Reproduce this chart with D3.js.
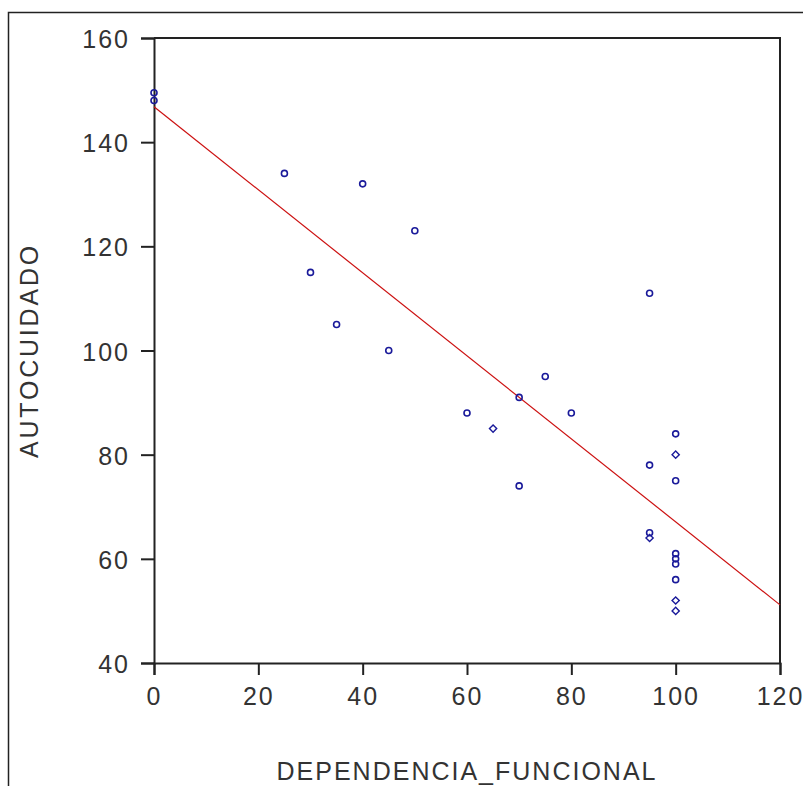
<!DOCTYPE html>
<html>
<head>
<meta charset="utf-8">
<script src="https://d3js.org/d3.v7.min.js"></script>
<style>
  body { margin: 0; background: #fff; }
  text { font-family: "Liberation Sans", Arial, sans-serif; fill: #333; }
</style>
</head>
<body>
<svg width="803" height="786"></svg>
<script>
// dependencia funcional (x) vs autocuidado (y)
var dependencia = [0, 0, 25, 30, 35, 40, 45, 50, 60, 65, 70, 70, 75, 80,
                   95, 95, 95, 95, 100, 100, 100, 100, 100, 100, 100, 100, 100];
var autocuidado = [148, 149.5, 134, 115, 105, 132, 100, 123, 88, 85, 91, 74, 95, 88,
                   111, 78, 65, 64, 84, 80, 75, 61, 60, 59, 56, 52, 50];
// cases sharing a marker (drawn as diamond when > 1)
var casos = [1, 1, 1, 1, 1, 1, 1, 1, 1, 2, 1, 1, 1, 1,
             1, 1, 1, 2, 1, 2, 1, 1, 1, 1, 1, 2, 2];
var xTicks = [0, 20, 40, 60, 80, 100, 120];
var yTicks = [40, 60, 80, 100, 120, 140, 160];
// fitted line
var intercepto = 146.8;
var pendiente = -0.797;

var svg = d3.select("svg");

svg.append("rect")
  .attr("x", 8.5).attr("y", 12.5)
  .attr("width", 820).attr("height", 820)
  .attr("fill", "none").attr("stroke", "#222").attr("stroke-width", 1.5);

var x = d3.scaleLinear().domain([0, 120]).range([154, 780]);
var y = d3.scaleLinear().domain([40, 160]).range([663, 38]);

// frame of plot (top and right)
svg.append("path")
  .attr("d", "M" + x(0) + "," + y(160) + "H" + x(120) + "V" + y(40))
  .attr("fill", "none").attr("stroke", "#222").attr("stroke-width", 2);

var xAxis = svg.append("g")
  .attr("transform", "translate(0," + y(40) + ")")
  .call(d3.axisBottom(x).tickValues(xTicks).tickSize(12).tickPadding(11));
var yAxis = svg.append("g")
  .attr("transform", "translate(" + x(0) + ",0)")
  .call(d3.axisLeft(y).tickValues(yTicks).tickSize(13).tickPadding(11));

[xAxis, yAxis].forEach(function(a) {
  a.select(".domain").attr("stroke", "#222").attr("stroke-width", 2);
  a.selectAll(".tick line").attr("stroke", "#222").attr("stroke-width", 2);
  a.selectAll(".tick text")
    .attr("fill", "#333")
    .style("font-family", "'Liberation Sans', Arial, sans-serif")
    .style("font-size", "25px")
    .style("letter-spacing", "2px");
});
xAxis.selectAll(".tick text").attr("dy", "0.75em");
yAxis.selectAll(".tick text").attr("dy", "0.38em");

// regression line
svg.append("line")
  .attr("x1", x(0)).attr("y1", y(intercepto))
  .attr("x2", x(120)).attr("y2", y(intercepto + pendiente * 120))
  .attr("stroke", "#cc1010").attr("stroke-width", 1.2);

// points
var puntos = dependencia.map(function(d, i) {
  return { x: d, y: autocuidado[i], n: casos[i] };
});
var diamond = d3.symbol().type(d3.symbolSquare).size(26);

svg.append("g").selectAll("circle")
  .data(puntos.filter(function(d) { return d.n === 1; }))
  .join("circle")
  .attr("cx", function(d) { return x(d.x); })
  .attr("cy", function(d) { return y(d.y); })
  .attr("r", 3)
  .attr("fill", "none").attr("stroke", "#1a1a9a").attr("stroke-width", 1.6);

svg.append("g").selectAll("path")
  .data(puntos.filter(function(d) { return d.n > 1; }))
  .join("path")
  .attr("transform", function(d) { return "translate(" + x(d.x) + "," + y(d.y) + ") rotate(45)"; })
  .attr("d", diamond)
  .attr("fill", "none").attr("stroke", "#1a1a9a").attr("stroke-width", 1.4);

// axis titles
svg.append("text")
  .attr("x", (x(0) + x(120)) / 2).attr("y", 780)
  .attr("text-anchor", "middle")
  .style("font-size", "25px").style("letter-spacing", "2px")
  .text("DEPENDENCIA_FUNCIONAL");

svg.append("text")
  .attr("transform", "translate(38," + (y(40) + y(160)) / 2 + ") rotate(-90)")
  .attr("text-anchor", "middle")
  .style("font-size", "25px").style("letter-spacing", "2.8px")
  .text("AUTOCUIDADO");
</script>
</body>
</html>
